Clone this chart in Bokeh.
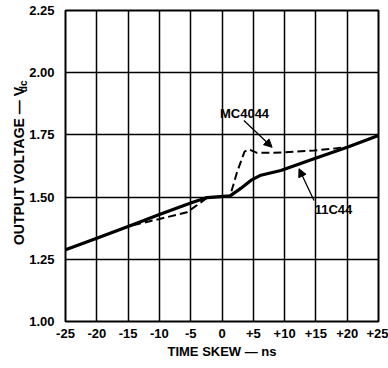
from bokeh.plotting import figure
from bokeh.models import Range1d, FixedTicker, Arrow, NormalHead, Label, Title
from bokeh.embed import file_html
from bokeh.resources import INLINE

# ---- data ----
x_ticks = [-25, -20, -15, -10, -5, 0, 5, 10, 15, 20, 25]
x_tick_labels = ["-25", "-20", "-15", "-10", "-5", "0", "+5", "+10", "+15", "+20", "+25"]
y_ticks = [1.00, 1.25, 1.50, 1.75, 2.00, 2.25]
y_tick_labels = ["1.00", "1.25", "1.50", "1.75", "2.00", "2.25"]

t_11c44 = [-25, -20, -15, -10, -5, -2.4, 1.3, 3.0, 4.6, 6.2, 9.4, 14.7, 20, 25]
v_11c44 = [1.288, 1.335, 1.382, 1.430, 1.476, 1.498, 1.505, 1.535, 1.567, 1.588, 1.607, 1.654, 1.700, 1.748]

t_mc4044 = [-25, -20, -15, -14.4, -10, -5.6, -3.7, -2.4, 1.3, 2.4, 3.6, 4.3, 5.6, 8.3, 14.7, 19, 20, 25]
v_mc4044 = [1.288, 1.335, 1.382, 1.386, 1.412, 1.439, 1.473, 1.497, 1.505, 1.600, 1.683, 1.692, 1.678, 1.678, 1.687, 1.698, 1.700, 1.748]

FONT = "Liberation Sans"

p = figure(width=388, height=368, output_backend="svg", toolbar_location=None,
           x_range=Range1d(-25, 25), y_range=Range1d(1.0, 2.25),
           min_border_left=65, min_border_right=10, min_border_top=10, min_border_bottom=47)
p.background_fill_color = "white"
p.border_fill_color = "white"
p.outline_line_color = "black"
p.outline_line_width = 2

for ax in (p.xaxis[0], p.yaxis[0]):
    ax.axis_line_color = None
    ax.major_tick_line_color = None
    ax.minor_tick_line_color = None
    ax.major_label_text_font = FONT
    ax.major_label_text_font_style = "bold"
    ax.major_label_text_font_size = "13px"
    ax.major_label_text_color = "black"
    ax.axis_label_text_font = FONT
    ax.axis_label_text_font_style = "bold"
    ax.axis_label_text_color = "black"

p.xaxis.axis_label_text_font_size = "13px"
p.xaxis.ticker = FixedTicker(ticks=x_ticks)
p.xaxis.major_label_overrides = {t: s for t, s in zip(x_ticks, x_tick_labels)}
p.yaxis.ticker = FixedTicker(ticks=y_ticks)
p.yaxis.major_label_overrides = {t: s for t, s in zip(y_ticks, y_tick_labels)}
p.xaxis.major_label_standoff = 1
p.yaxis.major_label_standoff = 5
p.xaxis.axis_label = "TIME SKEW — ns"
p.xaxis.axis_label_standoff = 3

# y-axis title: main text plus subscript "dc", as side titles
t_dc = Title(text="dc", align="right", offset=70, standoff=-4,
             text_font=FONT, text_font_style="bold", text_font_size="10px", text_color="black")
t_main = Title(text="OUTPUT VOLTAGE — V", align="center", standoff=-18,
               text_font=FONT, text_font_style="bold", text_font_size="14px", text_color="black")
p.add_layout(t_dc, "left")
p.add_layout(t_main, "left")

p.xgrid.grid_line_color = "black"
p.ygrid.grid_line_color = "black"
p.xgrid.grid_line_width = 1.5
p.ygrid.grid_line_width = 1.5

p.line(t_mc4044, v_mc4044, line_color="black", line_width=2, line_dash="8 4")
p.line(t_11c44, v_11c44, line_color="black", line_width=3.2)

p.add_layout(Arrow(end=NormalHead(size=8, fill_color="black", line_color="black"),
                   x_start=3.5, y_start=1.808, x_end=8.0, y_end=1.700,
                   line_color="black", line_width=1.3))
p.add_layout(Arrow(end=NormalHead(size=8, fill_color="black", line_color="black"),
                   x_start=14.7, y_start=1.486, x_end=12.3, y_end=1.614,
                   line_color="black", line_width=1.3))

p.add_layout(Label(x=3.6, y=1.838, text="MC4044", text_align="center", text_baseline="middle",
                   text_font=FONT, text_font_style="bold", text_font_size="13px", text_color="black"))
p.add_layout(Label(x=17.8, y=1.45, text="11C44", text_align="center", text_baseline="middle",
                   text_font=FONT, text_font_style="bold", text_font_size="13px", text_color="black"))

open("out.html", "w").write(file_html(p, INLINE))
